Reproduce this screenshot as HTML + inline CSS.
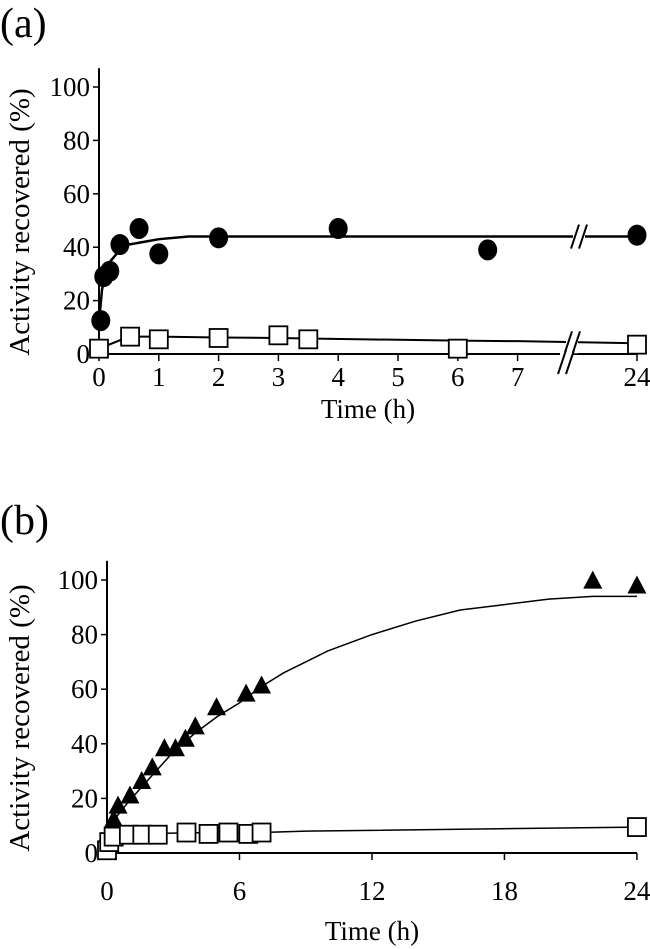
<!DOCTYPE html>
<html><head><meta charset="utf-8"><style>
html,body{margin:0;padding:0;background:#fff;}
svg{display:block;font-family:"Liberation Serif",serif;}
</style></head><body>
<svg id="c" width="650" height="949" viewBox="0 0 650 949">
<text x="0" y="37" font-size="42">(a)</text>
<text x="0" y="534" font-size="42">(b)</text>
</svg>
<script>
// Panel A data
const aCirT=[0.03,0.08,0.18,0.35,0.67,1,2,4,6.5,24];
const aCirV=[12.5,29,31,41,47,37.5,43.5,47,39,44.5];
const aSqT=[0,0.52,1,2,3,3.5,6,24];
const aSqV=[2,6.5,5.5,6,7,5.5,2,3.5];
const aFitCT=[0,0.05,0.1,0.2,0.35,0.5,0.75,1,1.5,2,4,7,24];
const aFitCV=[12,24,30,35,39,41,42,43,44,44,44,44,44];
const aFitST=[0,0.5,1,2,3,3.5,6,7,24];
const aFitSV=[2,6.5,6.5,6.2,6,5.8,5,4.8,4];
const aXTicks=[0,1,2,3,4,5,6,7,24];
const aYTicks=[0,20,40,60,80,100];
// Panel B data
const bTriT=[0.3,0.5,1.04,1.57,2.05,2.6,3.1,3.55,4.0,4.96,6.3,7.0,22,24];
const bTriV=[12,17,20.7,26,31,38,38,41.5,46,53,58,61,99.4,97.6];
const bSqT=[0,0.1,0.3,0.99,1.6,2.3,3.6,4.6,5.5,6.4,7.0,24];
const bSqV=[1,4,6,6.7,6.7,6.7,7.5,7,7.5,7,7.5,9.5];
const bFitTT=[0,0.5,1,2,3,4,5,6,7,8,9,10,12,14,16,18,20,22,24];
const bFitTV=[8,14,19,28,37,44,50,55,61,66,70,74,80,85,89,91,93,94,94];
const bFitST=[0,0.2,0.5,1,3,5,7,9,24];
const bFitSV=[1,5,6.5,7,7.3,7.5,7.5,8,9.5];
const bXTicks=[0,6,12,18,24];
const bYTicks=[0,20,40,60,80,100];

const NS="http://www.w3.org/2000/svg";
const svg=document.getElementById('c');
function mk(tag,at){const e=document.createElementNS(NS,tag);for(const k in at)e.setAttribute(k,at[k]);svg.appendChild(e);return e;}

function axA(t){return t<=7?99+t*59.8:637;}
function ayA(v){return 354-v*2.67;}
function axB(t){return 107+t*22.08;}
function ayB(v){return 853-v*2.73;}

function drawAxes(ax,ay,xt,yt,x0,x1,lblY,titleY,ylabY){
  let e=mk('line',{x1:x0,y1:ay(0),x2:x1,y2:ay(0),stroke:'#000','stroke-width':2});
  
  e=mk('line',{x1:x0,y1:ay(0),x2:x0,y2:ay(107),stroke:'#000','stroke-width':2});
  
  yt.forEach(v=>{
    let l=mk('line',{x1:x0-6,y1:ay(v),x2:x0,y2:ay(v),stroke:'#000','stroke-width':1.5});
    
    let t=mk('text',{x:x0-9,y:ay(v)+9,'font-size':27,'text-anchor':'end'});t.textContent=v;
    
  });
  xt.forEach(v=>{
    let l=mk('line',{x1:ax(v),y1:ay(0),x2:ax(v),y2:ay(0)+7,stroke:'#000','stroke-width':1.5});
    
    let t=mk('text',{x:ax(v),y:lblY,'font-size':27,'text-anchor':'middle'});t.textContent=v;
    
  });
  let t=mk('text',{x:(x0+x1)/2,y:titleY,'font-size':27,'text-anchor':'middle'});t.textContent='Time (h)';
  
  t=mk('text',{x:0,y:0,'font-size':29,'text-anchor':'middle',transform:`translate(29,${ylabY}) rotate(-90)`});t.textContent='Activity recovered (%)';
  
}
function line(ax,ay,T,V,w,name){
  const p=mk('polyline',{points:T.map((t,i)=>ax(t)+','+ay(V[i])).join(' '),fill:'none',stroke:'#000','stroke-width':w});
  
}
function circles(ax,ay,T,V){T.forEach((t,i)=>{const c=mk('ellipse',{cx:ax(t),cy:ay(V[i]),rx:9.5,ry:10.5,fill:'#000'});
  });}
function squares(ax,ay,T,V,s){T.forEach((t,i)=>{const r=mk('rect',{x:ax(t)-s/2,y:ay(V[i])-s/2,width:s,height:s,fill:'#fff',stroke:'#000','stroke-width':1.8});
  });}
function tris(ax,ay,T,V){T.forEach((t,i)=>{const x=ax(t),y=ay(V[i]);const p=mk('polygon',{points:`${x},${y-11} ${x-9.5},${y+7} ${x+9.5},${y+7}`,fill:'#000'});
  });}

// Panel A
drawAxes(axA,ayA,aXTicks,aYTicks,99,637,386,418,222);
line(axA,ayA,aFitCT,aFitCV,2.5,'circle-fit-line');
line(axA,ayA,aFitST,aFitSV,2,'square-fit-line');
[[579,ayA(44)],[572,ayA(4)],[566,ayA(-3)]].forEach(([x,y])=>{
  const w=mk('rect',{x:x-6,y:y-10,width:12,height:20,fill:'#fff'});
  
  [-4,4].forEach(d=>{const l=mk('line',{x1:x+d-4,y1:y+12,x2:x+d+4,y2:y-12,stroke:'#000','stroke-width':2});
    });
});
circles(axA,ayA,aCirT,aCirV);
squares(axA,ayA,aSqT,aSqV,18);

// Panel B
drawAxes(axB,ayB,bXTicks,bYTicks,107,637,900,940,718);
line(axB,ayB,bFitTT,bFitTV,1.5,'triangle-fit-line');
line(axB,ayB,bFitST,bFitSV,1.5,'square-fit-line-b');
tris(axB,ayB,bTriT,bTriV);
squares(axB,ayB,bSqT,bSqV,18);
</script>
</body></html>
